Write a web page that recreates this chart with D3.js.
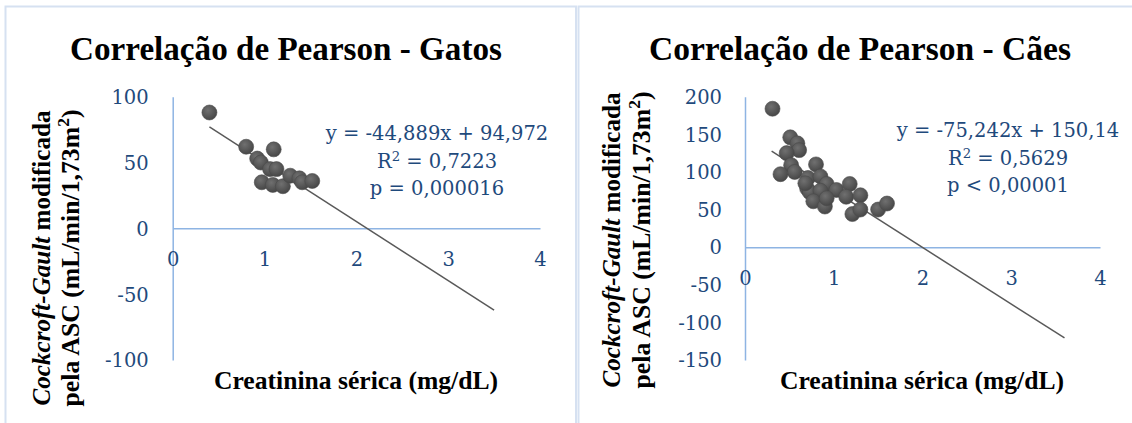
<!DOCTYPE html>
<html>
<head>
<meta charset="utf-8">
<script src="https://cdn.jsdelivr.net/npm/d3@7"></script>
<style>
  html, body { margin: 0; padding: 0; background: #ffffff; }
  svg { display: block; }
</style>
</head>
<body>
<svg id="chart" width="1132" height="423"></svg>
<script>
// ---------------- DATA ----------------
const xTicks = [0, 1, 2, 3, 4];

// Gatos (cats)
const gatosTitle = "Correlação de Pearson - Gatos";
const gatosX = [0.40, 0.80, 1.10, 0.92, 0.96, 1.06, 1.13, 0.97, 1.09, 1.20, 1.28, 1.38, 1.41, 1.52];
const gatosY = [88, 62, 60, 53, 50, 45, 45, 35, 33, 32, 40, 38, 35, 36];
const gatosYTicks = [-100, -50, 0, 50, 100];
const gatosTrend = [-44.889, 94.972];        // slope, intercept
const gatosTrendRange = [0.4, 3.5];
const gatosEq = ["y = -44,889x + 94,972", "R² = 0,7223", "p = 0,000016"];

// Cães (dogs)
const caesTitle = "Correlação de Pearson - Cães";
const caesX = [0.31, 0.51, 0.59, 0.61, 0.47, 0.52, 0.56, 0.40, 0.80, 0.71, 0.85, 0.70, 0.92, 0.73,
               0.85, 1.03, 1.18, 0.77, 0.90, 0.92, 1.14, 1.30, 1.21, 1.30, 1.50, 1.60, 0.68];
const caesY = [184, 146, 138, 129, 125, 109, 100, 97, 110, 92, 94, 78, 84, 73,
               75, 76, 84, 61, 54, 65, 67, 69, 44, 50, 50, 58, 85];
const caesYTicks = [-150, -100, -50, 0, 50, 100, 150, 200];
const caesTrend = [-75.242, 150.14];
const caesTrendRange = [0.3, 3.6];
const caesEq = ["y = -75,242x + 150,14", "R² = 0,5629", "p < 0,00001"];

const xTitle = "Creatinina sérica (mg/dL)";
const yTitleItalic = "Cockcroft-Gault";
const yTitleRest = " modificada";
const yTitleLine2 = "pela ASC (mL/min/1,73m²)";

// ---------------- STYLE ----------------
const FONT = "'DejaVu Serif', 'Liberation Serif', serif";
const BOLDFONT = "'Liberation Serif', 'DejaVu Serif', serif";
const BLUE = "#1f4a7c";
const AXIS = "#8eb4e3";
const FRAME = "#d6e1f1";

const svg = d3.select("#chart");

const defs = svg.append("defs");
const grad = defs.append("radialGradient").attr("id", "ptGrad")
  .attr("cx", "40%").attr("cy", "35%").attr("r", "65%");
grad.append("stop").attr("offset", "0%").attr("stop-color", "#707070");
grad.append("stop").attr("offset", "100%").attr("stop-color", "#474747");

// chart frames
svg.append("rect").attr("x", 5.5).attr("y", 6.5).attr("width", 570.5).attr("height", 430)
  .attr("fill", "none").attr("stroke", FRAME).attr("stroke-width", 2);
svg.append("rect").attr("x", 578.5).attr("y", 6.5).attr("width", 570).attr("height", 430)
  .attr("fill", "none").attr("stroke", FRAME).attr("stroke-width", 2);

function fitWidth(sel, target) {
  const w = sel.node().getComputedTextLength();
  const fs = parseFloat(sel.attr("font-size"));
  sel.attr("font-size", (fs * target / w).toFixed(2));
}

// write a string into a text element, rendering "²" as a raised smaller "2"
function writeSup(sel, s) {
  const parts = s.split("²");
  parts.forEach((p, i) => {
    if (i > 0) {
      sel.append("tspan").attr("font-size", "0.68em").attr("dy", "-0.55em").text("2");
      sel.append("tspan").attr("dy", "0.374em").text(p);
    } else {
      sel.append("tspan").text(p);
    }
  });
}

const fmt = d => String(d);

function drawChart(cfg) {
  const g = svg.append("g");
  const x = d3.scaleLinear().domain([0, 4]).range(cfg.xRange);
  const y = d3.scaleLinear().domain(cfg.yDomain).range([360, 96.7]);

  // title
  const t = g.append("text")
    .attr("x", cfg.titleX).attr("y", 60)
    .attr("text-anchor", "middle")
    .attr("font-family", BOLDFONT).attr("font-weight", "bold")
    .attr("font-size", 30).attr("fill", "#000")
    .text(cfg.title);
  fitWidth(t, cfg.titleW);

  // y axis
  const yAxis = d3.axisLeft(y).tickValues(cfg.yTicks).tickSize(0).tickPadding(cfg.yPad)
    .tickFormat(fmt);
  const ya = g.append("g").attr("transform", `translate(${x(0)},0)`).call(yAxis);
  ya.select(".domain").attr("stroke", AXIS).attr("stroke-width", 1.5);
  ya.selectAll("text").attr("font-family", FONT).attr("font-size", 19.5).attr("fill", BLUE)
    .attr("dy", "0.35em");

  // x axis
  const xAxis = d3.axisBottom(x).tickValues(xTicks).tickSize(0).tickFormat(fmt);
  const xa = g.append("g").attr("transform", `translate(0,${y(0)})`).call(xAxis);
  xa.select(".domain").attr("stroke", AXIS).attr("stroke-width", 1.5);
  xa.selectAll("text").attr("font-family", FONT).attr("font-size", 19.5).attr("fill", BLUE)
    .attr("y", 31).attr("dy", "0.35em");

  // trendline
  const tr = cfg.trendRange.map(v => [v, cfg.trend[0] * v + cfg.trend[1]]);
  g.append("path").datum(tr)
    .attr("d", d3.line().x(d => x(d[0])).y(d => y(d[1])))
    .attr("stroke", "#595959").attr("stroke-width", 1.5).attr("fill", "none");

  // points
  g.append("g").selectAll("circle")
    .data(cfg.xs.map((v, i) => [v, cfg.ys[i]]))
    .join("circle")
    .attr("cx", d => x(d[0])).attr("cy", d => y(d[1])).attr("r", 7.5)
    .attr("fill", "url(#ptGrad)").attr("stroke", "#4a4a4a").attr("stroke-width", 0.6);

  // equation text
  cfg.eq.forEach((s, i) => {
    const te = g.append("text")
      .attr("x", cfg.eqX).attr("y", cfg.eqY[i] + 7)
      .attr("text-anchor", "middle")
      .attr("font-family", FONT).attr("font-size", 19.5).attr("fill", BLUE);
    writeSup(te, s);
  });

  // x axis title
  const xt = g.append("text")
    .attr("x", cfg.xTitleX).attr("y", 380)
    .attr("text-anchor", "middle").attr("dominant-baseline", "central")
    .attr("font-family", BOLDFONT).attr("font-weight", "bold").attr("font-size", 20)
    .attr("fill", "#000").text(xTitle);
  fitWidth(xt, 284);

  // y axis title
  const yt1 = g.append("text")
    .attr("transform", `translate(${cfg.yTitleX[0] + 7},${cfg.yTitleY}) rotate(-90)`)
    .attr("text-anchor", "middle")
    .attr("font-family", BOLDFONT).attr("font-weight", "bold").attr("font-size", 20)
    .attr("fill", "#000");
  yt1.append("tspan").attr("font-style", "italic").text(yTitleItalic);
  yt1.append("tspan").text(yTitleRest);
  fitWidth(yt1, 295);
  const yt2 = g.append("text")
    .attr("transform", `translate(${cfg.yTitleX[1] + 7},${cfg.yTitleY}) rotate(-90)`)
    .attr("text-anchor", "middle")
    .attr("font-family", BOLDFONT).attr("font-weight", "bold").attr("font-size", 20)
    .attr("fill", "#000");
  writeSup(yt2, yTitleLine2);
  fitWidth(yt2, 297);
}

drawChart({
  title: gatosTitle, titleX: 286, titleW: 432,
  xRange: [172.7, 540], yDomain: [-100, 100], yTicks: gatosYTicks, yPad: 24,
  xs: gatosX, ys: gatosY, trend: gatosTrend, trendRange: gatosTrendRange,
  eq: gatosEq, eqX: 437, eqY: [133, 161, 188],
  xTitleX: 356, yTitleX: [43, 72], yTitleY: 258
});

drawChart({
  title: caesTitle, titleX: 860, titleW: 422,
  xRange: [745, 1100], yDomain: [-150, 200], yTicks: caesYTicks, yPad: 23,
  xs: caesX, ys: caesY, trend: caesTrend, trendRange: caesTrendRange,
  eq: caesEq, eqX: 1008, eqY: [130, 158, 185],
  xTitleX: 922, yTitleX: [613, 643], yTitleY: 240
});
</script>
</body>
</html>
